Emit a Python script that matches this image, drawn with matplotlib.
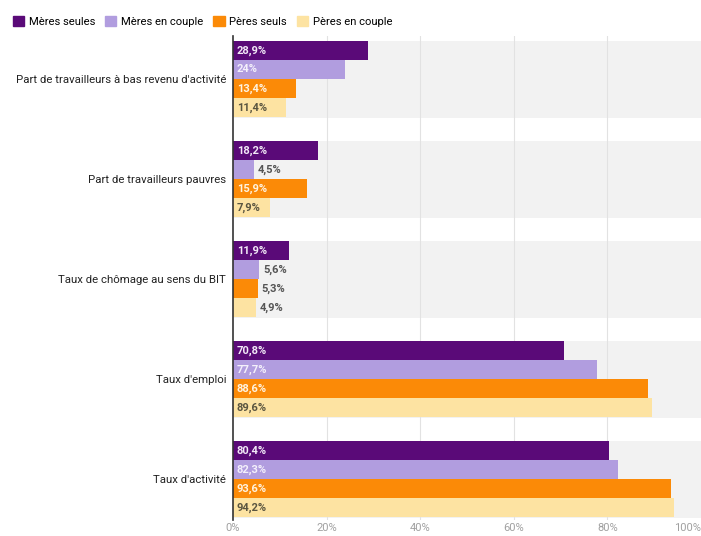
import numpy as np
import matplotlib.pyplot as plt
from matplotlib.patches import Patch

plt.rcParams['font.family'] = ['Roboto', 'DejaVu Sans']

# données
categories = ["Part de travailleurs à bas revenu d'activité",
              "Part de travailleurs pauvres",
              "Taux de chômage au sens du BIT",
              "Taux d'emploi",
              "Taux d'activité"]
series = ["Mères seules", "Mères en couple", "Pères seuls", "Pères en couple"]
meres_seules = [28.9, 18.2, 11.9, 70.8, 80.4]
meres_couple = [24.0, 4.5, 5.6, 77.7, 82.3]
peres_seuls = [13.4, 15.9, 5.3, 88.6, 93.6]
peres_couple = [11.4, 7.9, 4.9, 89.6, 94.2]
ticks = [0, 20, 40, 60, 80, 100]

values = [meres_seules, meres_couple, peres_seuls, peres_couple]
colors = ['#5a0a78', '#b19ddf', '#fb8a07', '#fde3a2']
txt_colors = ['#f2e9f7', '#f4f0fb', '#fff3e0', '#5a5540']

fig = plt.figure(figsize=(7.01, 5.36), dpi=100)
ax = fig.add_axes([233/701, 16/536, 468/701, 484/536])

bh = 0.19
off = 0.05
for i in range(len(categories)):
    ax.axhspan(i + off, i + off + 4*bh + 0.005, color='#f2f2f2', zorder=0, lw=0)
for x in ticks[1:-1]:
    ax.axvline(x, color='#e2e2e2', lw=0.8, zorder=1)

def lab(v):
    s = ('%.1f' % v).replace('.', ',')
    if s.endswith(',0'):
        s = s[:-2]
    return s + '%'

for j, vals in enumerate(values):
    y = np.arange(len(categories)) + off + j*bh + bh/2
    ax.barh(y, vals, height=bh, color=colors[j], zorder=2, lw=0)
    for yy, v in zip(y, vals):
        if v >= 7:
            ax.text(0.8, yy, lab(v), va='center', ha='left', fontsize=8,
                    color=txt_colors[j], fontweight='bold', zorder=3)
        else:
            ax.text(v + 0.8, yy, lab(v), va='center', ha='left', fontsize=8,
                    color='#555555', fontweight='bold', zorder=3)

ax.set_xlim(0, 100)
ax.set_ylim(4.84, 0)
ax.set_yticks(np.arange(len(categories)) + off + 2*bh)
ax.set_yticklabels(categories, fontsize=8.2, color='#222222')
ax.set_xticks(ticks)
ax.set_xticklabels(['%d%%' % t for t in ticks], fontsize=8, color='#a0a0a0')
ax.get_xticklabels()[-1].set_ha('right')
ax.tick_params(axis='y', length=0, pad=5)
ax.tick_params(axis='x', length=0, pad=2)
for s in ['top', 'right', 'bottom']:
    ax.spines[s].set_visible(False)
ax.spines['left'].set_color('#333333')
ax.spines['left'].set_linewidth(1.2)

handles = [Patch(color=c, label=l) for c, l in zip(colors, series)]
fig.legend(handles=handles, loc='upper left', bbox_to_anchor=(0.012, 0.979), ncol=4,
           frameon=False, fontsize=8.1, handlelength=1.0, handleheight=1.0,
           handletextpad=0.4, columnspacing=0.9, borderaxespad=0)

fig.savefig('out.png', dpi=100)
